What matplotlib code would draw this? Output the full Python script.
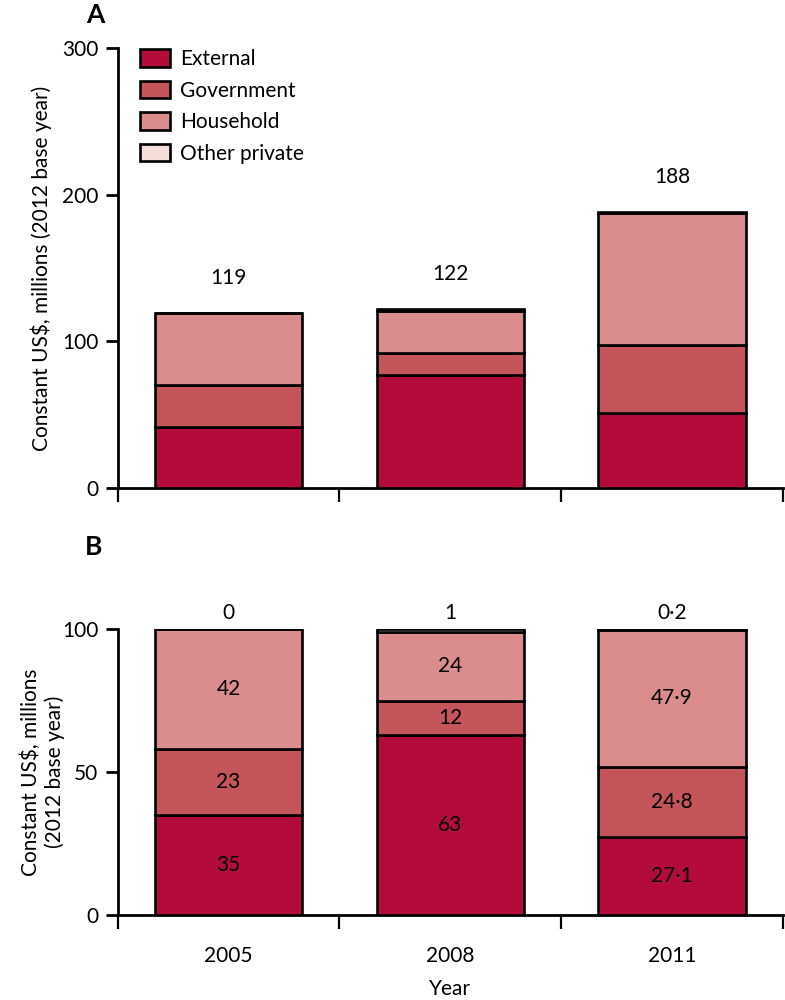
import numpy as np
import matplotlib
matplotlib.use("Agg")
import matplotlib.pyplot as plt
from matplotlib.patches import Patch

plt.rcParams['font.family'] = ['Lato', 'DejaVu Sans']

years = ["2005", "2008", "2011"]
sources = ["External", "Government", "Household", "Other private"]
colors = ["#B30B3A", "#C4555A", "#DA8D8C", "#F5DEDA"]

# panel A, constant US$ millions
external_a = [41.5, 77, 51]
government_a = [28.5, 15, 46.5]
household_a = [49, 28.5, 90]
other_a = [0, 1.5, 0.4]
totals_a = [119, 122, 188]

# panel B, share (%)
external_b = [35, 63, 27.1]
government_b = [23, 12, 24.8]
household_b = [42, 24, 47.9]
other_b = [0, 1, 0.2]
labels_b = [["35", "63", "27·1"], ["23", "12", "24·8"],
            ["42", "24", "47·9"]]
top_labels_b = ["0", "1", "0·2"]

FS = 15
LW = 1.9
fig = plt.figure(figsize=(7.85, 10), dpi=100)
ax_a = fig.add_axes([0.150, 0.512, 0.847, 0.440])
ax_b = fig.add_axes([0.150, 0.085, 0.847, 0.286])

x = np.arange(len(years))
width = 0.665


def stack(ax, series):
    bottom = np.zeros(len(years))
    for vals, c in zip(series, colors):
        ax.bar(x, vals, width, bottom=bottom, color=c,
               edgecolor="black", linewidth=LW, zorder=3)
        bottom += np.array(vals)
    return bottom


def style(ax):
    ax.set_xlim(-0.5, 2.5)
    for s in ["top", "right"]:
        ax.spines[s].set_visible(False)
    ax.spines["left"].set_linewidth(2)
    ax.spines["bottom"].set_linewidth(2)
    ax.set_xticks([-0.5, 0.5, 1.5, 2.5])
    ax.set_xticklabels([])
    ax.tick_params(axis="x", which="major", length=10, width=1.6)
    ax.tick_params(axis="y", length=9, width=2, labelsize=FS, pad=5)


stack(ax_a, [external_a, government_a, household_a, other_a])
style(ax_a)
ax_a.set_ylim(0, 300)
ax_a.set_yticks([0, 100, 200, 300])
ax_a.set_ylabel("Constant US$, millions (2012 base year)", fontsize=FS,
                labelpad=7)
for xi, t in zip(x, totals_a):
    ax_a.annotate(str(t), (xi, t), xytext=(0, 18), textcoords="offset points",
                  ha="center", va="bottom", fontsize=FS)

handles = [Patch(facecolor=c, edgecolor="black", linewidth=LW)
           for c in colors]
ax_a.legend(handles, sources, loc="upper left", bbox_to_anchor=(0.006, 1.04),
            frameon=False, fontsize=FS, handlelength=1.4, handleheight=0.9,
            labelspacing=0.55, handletextpad=0.5)

stack(ax_b, [external_b, government_b, household_b, other_b])
style(ax_b)
ax_b.set_ylim(0, 100)
ax_b.set_yticks([0, 50, 100])
ax_b.set_ylabel("Constant US$, millions\n(2012 base year)", fontsize=FS,
                labelpad=-2)
ax_b.set_xticks(x, minor=True)
ax_b.set_xticklabels(years, minor=True, fontsize=FS)
ax_b.tick_params(axis="x", which="minor", length=0, pad=22)
ax_b.set_xlabel("Year", fontsize=FS, labelpad=10)

bottom = np.zeros(len(years))
for vals, labs in zip([external_b, government_b, household_b], labels_b):
    for xi, v, b, lab in zip(x, vals, bottom, labs):
        ax_b.text(xi, b + v / 2, lab, ha="center", va="center", fontsize=FS,
                  zorder=4)
    bottom += np.array(vals)
for xi, lab in zip(x, top_labels_b):
    ax_b.annotate(lab, (xi, 100), xytext=(0, 4), textcoords="offset points",
                  ha="center", va="bottom", fontsize=FS)

fig.text(0.121, 0.985, "A", fontsize=FS + 4, fontweight="bold",
         ha="center", va="center")
fig.text(0.119, 0.453, "B", fontsize=FS + 4, fontweight="bold",
         ha="center", va="center")

fig.savefig("out.png", dpi=100)
